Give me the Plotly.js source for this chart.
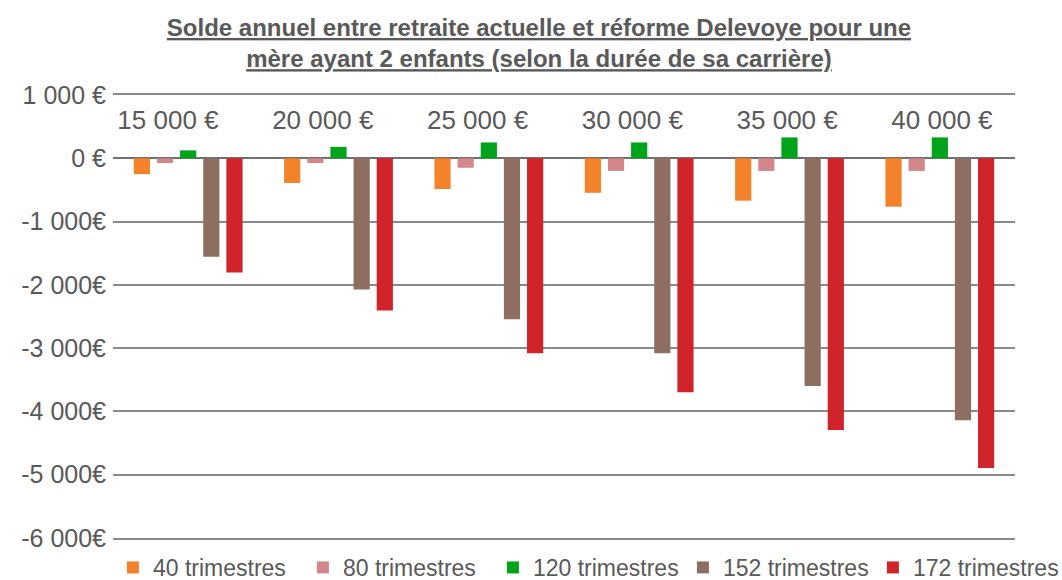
<!DOCTYPE html>
<html>
<head>
<meta charset="utf-8">
<script src="https://cdn.plot.ly/plotly-3.0.1.min.js"></script>
<style>html,body{margin:0;padding:0;background:#fff;}#chart{width:1062px;height:580px;}</style>
</head>
<body>
<div id="chart"></div>
<script>
const categories = ["15 000 €", "20 000 €", "25 000 €", "30 000 €", "35 000 €", "40 000 €"];
const seriesNames = ["40 trimestres", "80 trimestres", "120 trimestres", "152 trimestres", "172 trimestres"];
const t40 = [-250, -390, -485, -545, -670, -765];
const t80 = [-75, -75, -150, -200, -200, -200];
const t120 = [125, 180, 250, 250, 330, 330];
const t152 = [-1555, -2075, -2545, -3080, -3600, -4140];
const t172 = [-1805, -2405, -3080, -3695, -4295, -4895];
const colors = ["#F4822A", "#D4878B", "#00A41A", "#8F6E62", "#D1232A"];
const yTickVals = [1000, 0, -1000, -2000, -3000, -4000, -5000, -6000];
const yTickText = ["1 000 €", "0 €", "-1 000€", "-2 000€", "-3 000€", "-4 000€", "-5 000€", "-6 000€"];

const seriesValues = [t40, t80, t120, t152, t172];
const traces = seriesValues.map((vals, i) => ({
  type: "bar",
  name: seriesNames[i],
  x: categories,
  y: vals,
  marker: {color: colors[i]},
  hoverinfo: "x+y+name"
}));
// invisible trace carrying the category labels drawn inside the plot
traces.push({
  type: "scatter",
  mode: "markers",
  x: categories,
  y: categories.map(() => null),
  xaxis: "x2",
  yaxis: "y",
  showlegend: false,
  hoverinfo: "skip",
  marker: {opacity: 0}
});

const txt = "#595959";
const layout = {
  width: 1062,
  height: 580,
  margin: {l: 113, r: 47, t: 95, b: 42, autoexpand: false},
  paper_bgcolor: "#ffffff",
  plot_bgcolor: "#ffffff",
  font: {family: "Liberation Sans, Arial, sans-serif", color: txt},
  title: {
    text: "<b><u>Solde annuel entre retraite actuelle et réforme Delevoye pour une</u></b><br><b><u>mère ayant 2 enfants (selon la durée de sa carrière)</u></b>",
    font: {size: 24, color: txt, family: "Liberation Sans, Arial, sans-serif"},
    x: 0.5075, xanchor: "center",
    y: 0.938, yanchor: "middle", yref: "container"
  },
  barmode: "group",
  bargap: 0.23,
  bargroupgap: 0.3,
  showlegend: true,
  legend: {
    orientation: "h",
    x: -0.0001, xanchor: "left",
    y: -0.018, yanchor: "top", yref: "paper",
    font: {size: 23, color: txt},
    entrywidth: 145, entrywidthmode: "pixels",
    traceorder: "normal",
    itemclick: false
  },
  xaxis: {
    type: "category",
    showticklabels: false,
    showgrid: false,
    zeroline: false,
    showline: true,
    mirror: true,
    linecolor: "#8a8a8a",
    linewidth: 2,
    ticks: ""
  },
  xaxis2: {
    type: "category",
    overlaying: "x",
    anchor: "free",
    position: 0.984,
    side: "bottom",
    range: [-0.355, 5.472],
    showgrid: false,
    zeroline: false,
    showline: false,
    ticks: "",
    tickfont: {size: 26, color: txt}
  },
  yaxis: {
    range: [-6000, 1000],
    tickvals: yTickVals,
    ticktext: yTickText,
    tickfont: {size: 25, color: txt},
    showgrid: true,
    gridcolor: "#8a8a8a",
    gridwidth: 2,
    zeroline: true,
    zerolinecolor: "#707070",
    zerolinewidth: 2,
    showline: false,
    ticks: "",
    ticklabelstandoff: 6
  }
};

Plotly.newPlot("chart", traces, layout, {displayModeBar: false, staticPlot: true});
</script>
</body>
</html>
